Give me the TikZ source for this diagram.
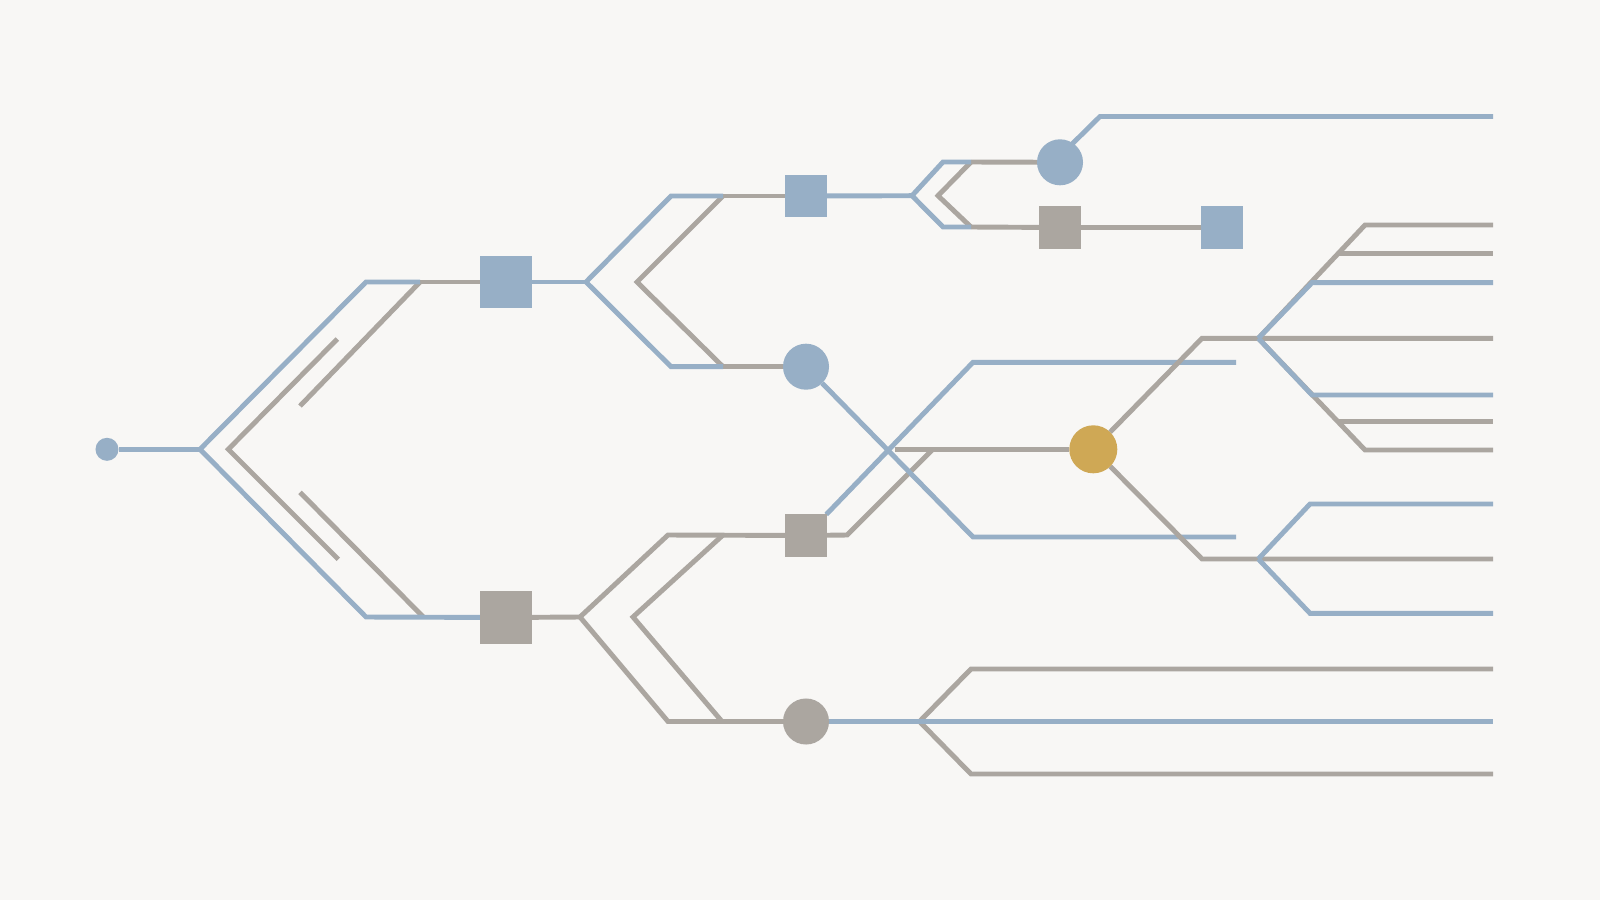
\documentclass[tikz,border=0pt]{standalone}
\usetikzlibrary{backgrounds}
\definecolor{cb}{HTML}{97AFC6}
\definecolor{cg}{HTML}{ABA6A0}
\definecolor{cgold}{HTML}{CFA855}
\definecolor{bgc}{HTML}{F8F7F5}
\begin{document}
\begin{tikzpicture}[x=0.01cm,y=-0.01cm,
  ln/.style={line width=1.4pt},
  bl/.style={ln,draw=cb},
  gr/.style={ln,draw=cg},
  bsq/.style={rectangle,fill=cb,minimum size=#1,inner sep=0pt,outer sep=0pt},
  gsq/.style={rectangle,fill=cg,minimum size=#1,inner sep=0pt,outer sep=0pt},
  bci/.style={circle,fill=cb,minimum size=#1,inner sep=0pt,outer sep=0pt},
  gci/.style={circle,fill=cg,minimum size=#1,inner sep=0pt,outer sep=0pt},
  oci/.style={circle,fill=cgold,minimum size=#1,inner sep=0pt,outer sep=0pt}]
\useasboundingbox (0,0) rectangle (1600,900);
% nodes
\node[bci=0.23cm] (S) at (107,449.3) {};
\node[bsq=0.52cm] (Q1) at (506,282) {};
\node[gsq=0.52cm] (Q2) at (506,617.5) {};
\node[bsq=0.42cm] (S3) at (806,196) {};
\node[bci=0.46cm] (C4) at (806,366.7) {};
\node[bci=0.46cm] (C5) at (1060,162.3) {};
\node[gsq=0.42cm] (S6) at (1060,227.5) {};
\node[bsq=0.42cm] (S7) at (1222,227.5) {};
\node[gsq=0.42cm] (S8) at (806,535.5) {};
\node[gci=0.46cm] (C9) at (806,721.5) {};
\node[oci=0.48cm] (G) at (1093.3,449.3) {};
% junctions
\coordinate (v0) at (200,449.3);
\coordinate (g1a) at (420,282);
\coordinate (g1b) at (300,406);
\coordinate (g2a) at (300,492.3);
\coordinate (g2b) at (423.3,617);
\coordinate (c1) at (337.3,339);
\coordinate (c2) at (228.3,449.3);
\coordinate (c3) at (338.3,559.3);
\coordinate (v1) at (586,282);
\coordinate (j3) at (723,196);
\coordinate (j4) at (723,366.7);
\coordinate (v2) at (912,195.7);
\coordinate (j5) at (971,162);
\coordinate (j6) at (971,227);
\coordinate (t5) at (1062,154);
\coordinate (v3) at (580,617);
\coordinate (j7) at (723,535);
\coordinate (j8) at (722,721.5);
\coordinate (v4) at (919.5,721.5);
\coordinate (x0) at (895,449.3);
\coordinate (v5) at (1258.3,338.3);
\coordinate (v6) at (1258.3,559);
\begin{scope}[on background layer]
\fill[bgc] (0,0) rectangle (1600,900);
% left fork
\draw[gr] (c1) -- (c2) -- (c3);
\draw[gr] (g2a) -- (g2b);
\draw[gr] (g1a) -- (Q1);
\draw[gr] (g1a) -- (g1b);
\draw[bl] (S) -- (v0);
\draw[bl] (v0) -- (366,282) -- (g1a);
\draw[bl] (v0) -- (366,617) -- (Q2);
% upper middle
\draw[bl] (Q1) -- (v1);
\draw[gr] (j3) -- (S3);
\draw[gr] (j3) -- (637,282) -- (j4);
\draw[gr] (j4) -- (C4);
\draw[bl] (v1) -- (671,196) -- (j3);
\draw[bl] (v1) -- (671,366.7) -- (j4);
\draw[bl] (S3) -- (v2);
\draw[gr] (j5) -- (C5);
\draw[gr] (j5) -- (938,195.7) -- (j6);
\draw[gr] (j6) -- (S6);
\draw[gr] (S6) -- (S7);
\draw[bl] (v2) -- (943,162) -- (j5);
\draw[bl] (v2) -- (943,227) -- (j6);
\draw[bl] (t5) -- (1100,116.5) -- (1493,116.5);
% lower middle
\draw[gr] (Q2) -- (v3);
\draw[gr] (v3) -- (668,535) -- (S8);
\draw[gr] (j7) -- (633,617) -- (j8);
\draw[gr] (v3) -- (668,721.5) -- (C9);
\draw[gr] (v4) -- (971,669) -- (1493,669);
\draw[gr] (v4) -- (971,774) -- (1493,774);
\draw[bl] (C9) -- (v4) -- (1493,721.5);
% crossing
\draw[gr] (S8) -- (847,535) -- (932,450);
\draw[gr] (x0) -- (G);
\draw[bl] (C4) -- (973,537) -- (1236,537);
\draw[bl] (S8) -- (973,362.3) -- (1236,362.3);
% right fans
\draw[gr] (G) -- (1202,338.3) -- (v5) -- (1493,338.3);
\draw[gr] (v5) -- (1365,225) -- (1493,225);
\draw[gr] (1338.3,253.3) -- (1493,253.3);
\draw[gr] (v5) -- (1365,450) -- (1493,450);
\draw[gr] (1338.3,421.7) -- (1493,421.7);
\draw[bl] (v5) -- (1312,282.7) -- (1493,282.7);
\draw[bl] (v5) -- (1312,395) -- (1493,395);
\draw[gr] (G) -- (1202,559) -- (v6) -- (1493,559);
\draw[bl] (v6) -- (1310,504) -- (1493,504);
\draw[bl] (v6) -- (1310,613.3) -- (1493,613.3);
\end{scope}
\end{tikzpicture}
\end{document}
